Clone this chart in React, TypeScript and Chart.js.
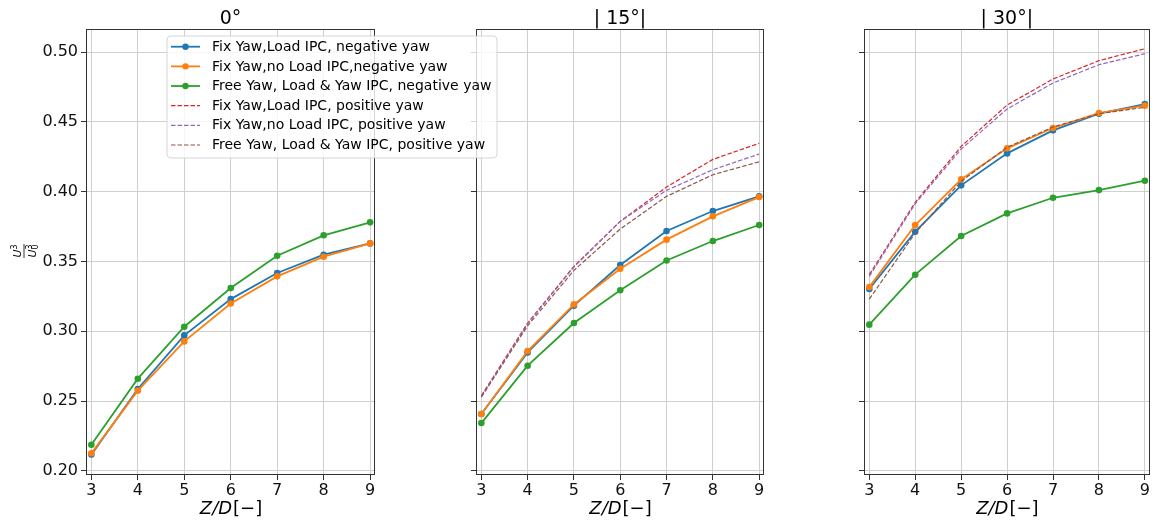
import React, { useEffect, useRef } from 'react';
import { Chart, registerables } from 'chart.js';

Chart.register(...registerables);

// ---------- data ----------
const zValues = [3, 4, 5, 6, 7, 8, 9];
const yTickValues = [0.2, 0.25, 0.3, 0.35, 0.4, 0.45, 0.5];
const panelTitles = ['0°', '| 15°|', '| 30°|'];

const seriesLabels = [
  'Fix Yaw,Load IPC, negative yaw',
  'Fix Yaw,no Load IPC,negative yaw',
  'Free Yaw, Load & Yaw IPC, negative yaw',
  'Fix Yaw,Load IPC, positive yaw',
  'Fix Yaw,no Load IPC, positive yaw',
  'Free Yaw, Load & Yaw IPC, positive yaw',
];
const seriesColors = ['#1f77b4', '#ff7f0e', '#2ca02c', '#d62728', '#9467bd', '#8c564b'];
const seriesDashed = [false, false, false, true, true, true];

// Panel 0°
const yaw0FixLoadNeg = [0.2116, 0.2586, 0.297, 0.323, 0.3417, 0.3548, 0.3629];
const yaw0FixNoLoadNeg = [0.2125, 0.2574, 0.2927, 0.3199, 0.3393, 0.3534, 0.3629];
const yaw0FreeNeg = [0.2187, 0.266, 0.3032, 0.3309, 0.3541, 0.3687, 0.378];

// Panel |15°|
const yaw15FixLoadNeg = [0.2407, 0.2848, 0.3183, 0.3474, 0.3718, 0.3861, 0.3966];
const yaw15FixNoLoadNeg = [0.2407, 0.2858, 0.3192, 0.3448, 0.3656, 0.3823, 0.3961];
const yaw15FreeNeg = [0.2342, 0.2753, 0.3059, 0.3293, 0.3507, 0.3646, 0.3761];
const yaw15FixLoadPos = [0.2538, 0.3059, 0.3465, 0.3787, 0.4033, 0.4231, 0.4346];
const yaw15FixNoLoadPos = [0.2533, 0.3054, 0.346, 0.3787, 0.4009, 0.4157, 0.4269];
const yaw15FreePos = [0.2528, 0.3039, 0.3436, 0.3732, 0.3966, 0.4121, 0.4214];

// Panel |30°|
const yaw30FixLoadNeg = [0.3302, 0.3713, 0.4045, 0.4274, 0.4439, 0.4558, 0.4627];
const yaw30FixNoLoadNeg = [0.3316, 0.3761, 0.4088, 0.431, 0.4456, 0.4563, 0.4616];
const yaw30FreeNeg = [0.3047, 0.3405, 0.3682, 0.3844, 0.3956, 0.4011, 0.4078];
const yaw30FixLoadPos = [0.3405, 0.3923, 0.4324, 0.462, 0.4807, 0.4938, 0.5024];
const yaw30FixNoLoadPos = [0.3393, 0.3913, 0.4305, 0.4592, 0.4778, 0.4909, 0.4988];
const yaw30FreePos = [0.323, 0.3703, 0.4074, 0.4317, 0.4463, 0.4558, 0.4604];

const panelSeries: (number[] | null)[][] = [
  [yaw0FixLoadNeg, yaw0FixNoLoadNeg, yaw0FreeNeg, null, null, null],
  [yaw15FixLoadNeg, yaw15FixNoLoadNeg, yaw15FreeNeg, yaw15FixLoadPos, yaw15FixNoLoadPos, yaw15FreePos],
  [yaw30FixLoadNeg, yaw30FixNoLoadNeg, yaw30FreeNeg, yaw30FixLoadPos, yaw30FixNoLoadPos, yaw30FreePos],
];

// ---------- layout ----------
const W = 1153;
const H = 522;
const panelLeft = [86, 476, 864];
const panelRight = [375, 764, 1152];
const areaTop = 29;
const areaBottom = 475;
const yAxisW = 60;
const xAxisH = 40;
const FONT = "'DejaVu Sans', sans-serif";

function makeDecor(k: number) {
  return {
    id: 'decor' + k,
    afterDatasetsDraw(chart: any) {
      const { ctx, chartArea: a } = chart;
      ctx.save();
      ctx.strokeStyle = '#333';
      ctx.lineWidth = 1;
      ctx.strokeRect(Math.round(a.left) + 0.5, Math.round(a.top) + 0.5, Math.round(a.right - a.left) - 1, Math.round(a.bottom - a.top) - 1);
      ctx.restore();
    },
    afterDraw(chart: any) {
      const { ctx, chartArea: a } = chart;
      const cx = (a.left + a.right) / 2;
      ctx.save();
      // title
      ctx.fillStyle = '#000';
      ctx.font = `19px ${FONT}`;
      ctx.textAlign = 'center';
      ctx.textBaseline = 'alphabetic';
      ctx.fillText(panelTitles[k], cx, 24);
      // x label: Z/D[−]
      const it = `italic 18px ${FONT}`;
      const up = `18px ${FONT}`;
      ctx.font = it;
      const w1 = ctx.measureText('Z/D').width;
      ctx.font = up;
      const w2 = ctx.measureText('[−]').width;
      const x0 = cx - (w1 + w2) / 2;
      ctx.textAlign = 'left';
      ctx.font = it;
      ctx.fillText('Z/D', x0, 514);
      ctx.font = up;
      ctx.fillText('[−]', x0 + w1 + 1, 514);

      if (k === 0) {
        // y label: U^3 / U_0^3 rotated
        ctx.save();
        ctx.translate(24.5, 251);
        ctx.rotate(-Math.PI / 2);
        ctx.fillStyle = '#000';
        const big = `italic 11px ${FONT}`;
        const small = `8px ${FONT}`;
        ctx.font = big;
        const uw = ctx.measureText('U').width;
        ctx.font = small;
        const sw = ctx.measureText('3').width;
        const nW = uw + sw;
        ctx.font = big;
        ctx.textAlign = 'left';
        ctx.fillText('U', -nW / 2, -4);
        ctx.font = small;
        ctx.fillText('3', -nW / 2 + uw, -8);
        const dW = uw + sw;
        ctx.font = big;
        ctx.fillText('U', -dW / 2, 11);
        ctx.font = small;
        ctx.fillText('3', -dW / 2 + uw, 7);
        ctx.fillText('0', -dW / 2 + uw, 13);
        ctx.strokeStyle = '#000';
        ctx.lineWidth = 0.8;
        ctx.beginPath();
        ctx.moveTo(-7, -0.5);
        ctx.lineTo(7, -0.5);
        ctx.stroke();
        ctx.restore();

        // legend
        const lx = 167, ly = 36, lw = 330, lh = 122;
        ctx.save();
        ctx.beginPath();
        const r = 4;
        ctx.moveTo(lx + r, ly);
        ctx.lineTo(lx + lw - r, ly);
        ctx.quadraticCurveTo(lx + lw, ly, lx + lw, ly + r);
        ctx.lineTo(lx + lw, ly + lh - r);
        ctx.quadraticCurveTo(lx + lw, ly + lh, lx + lw - r, ly + lh);
        ctx.lineTo(lx + r, ly + lh);
        ctx.quadraticCurveTo(lx, ly + lh, lx, ly + lh - r);
        ctx.lineTo(lx, ly + r);
        ctx.quadraticCurveTo(lx, ly, lx + r, ly);
        ctx.closePath();
        ctx.fillStyle = 'rgba(255,255,255,0.8)';
        ctx.fill();
        ctx.strokeStyle = 'rgba(204,204,204,0.8)';
        ctx.lineWidth = 1;
        ctx.stroke();
        ctx.restore();

        ctx.font = `14px ${FONT}`;
        ctx.textBaseline = 'middle';
        ctx.textAlign = 'left';
        for (let i = 0; i < seriesLabels.length; i++) {
          const yy = 46.7 + i * 19.66;
          ctx.save();
          ctx.strokeStyle = seriesColors[i];
          if (seriesDashed[i]) {
            ctx.lineWidth = 1.2;
            ctx.setLineDash([4.5, 2]);
          } else {
            ctx.lineWidth = 1.8;
          }
          ctx.beginPath();
          ctx.moveTo(171, yy);
          ctx.lineTo(200, yy);
          ctx.stroke();
          if (!seriesDashed[i]) {
            ctx.fillStyle = seriesColors[i];
            ctx.beginPath();
            ctx.arc(185.5, yy, 3.2, 0, Math.PI * 2);
            ctx.fill();
          }
          ctx.restore();
          ctx.fillStyle = '#000';
          ctx.fillText(seriesLabels[i], 212, yy + 0.5);
        }
      }
      ctx.restore();
    },
  };
}

function buildConfig(k: number): any {
  const datasets: any[] = [];
  panelSeries[k].forEach((vals, i) => {
    if (!vals) return;
    datasets.push({
      label: seriesLabels[i],
      data: zValues.map((z, j) => ({ x: z, y: vals[j] })),
      borderColor: seriesColors[i],
      backgroundColor: seriesColors[i],
      pointBackgroundColor: seriesColors[i],
      pointBorderWidth: 0,
      borderWidth: seriesDashed[i] ? 1.2 : 1.8,
      borderDash: seriesDashed[i] ? [4.5, 2] : [],
      pointRadius: seriesDashed[i] ? 0 : 3.3,
      pointHoverRadius: 0,
      tension: 0,
      fill: false,
      order: 10 - i,
    });
  });
  return {
    type: 'line',
    data: { datasets },
    plugins: [makeDecor(k)],
    options: {
      responsive: false,
      animation: false,
      events: [],
      layout: {
        padding: {
          left: panelLeft[k] - yAxisW,
          right: W - panelRight[k],
          top: areaTop,
          bottom: H - areaBottom - xAxisH,
        },
      },
      plugins: { legend: { display: false }, tooltip: { enabled: false }, title: { display: false } },
      scales: {
        x: {
          type: 'linear',
          min: 2.885,
          max: 9.105,
          afterBuildTicks: (s: any) => {
            s.ticks = zValues.map((v) => ({ value: v }));
          },
          afterFit: (s: any) => {
            s.height = xAxisH;
            s.paddingLeft = 0;
            s.paddingRight = 0;
          },
          border: { display: false },
          grid: { color: '#cfcfcf', lineWidth: 1, tickColor: '#333', tickLength: 5, drawTicks: true },
          ticks: {
            color: '#111',
            font: { family: FONT, size: 16 },
            padding: 1,
            maxRotation: 0,
            autoSkip: false,
            callback: (v: any) => String(v),
          },
        },
        y: {
          type: 'linear',
          min: 0.197,
          max: 0.5165,
          afterBuildTicks: (s: any) => {
            s.ticks = yTickValues.map((v) => ({ value: v }));
          },
          afterFit: (s: any) => {
            s.width = yAxisW;
            s.paddingTop = 0;
            s.paddingBottom = 0;
          },
          border: { display: false },
          grid: { color: '#cfcfcf', lineWidth: 1, tickColor: '#333', tickLength: 5, drawTicks: true },
          ticks: {
            display: k === 0,
            color: '#111',
            font: { family: FONT, size: 16 },
            padding: 3,
            autoSkip: false,
            callback: (v: any) => Number(v).toFixed(2),
          },
        },
      },
    },
  };
}

function App() {
  const r0 = useRef<HTMLCanvasElement>(null);
  const r1 = useRef<HTMLCanvasElement>(null);
  const r2 = useRef<HTMLCanvasElement>(null);

  useEffect(() => {
    document.body.style.margin = '0';
    const refs = [r0, r1, r2];
    const charts = refs.map((r, k) => new Chart(r.current as HTMLCanvasElement, buildConfig(k)));
    return () => charts.forEach((c) => c.destroy());
  }, []);

  const cs: React.CSSProperties = { position: 'absolute', left: 0, top: 0, width: W, height: H };
  return (
    <div style={{ position: 'fixed', left: 0, top: 0, width: W, height: H, background: '#fff' }}>
      <canvas ref={r2} width={W} height={H} style={{ ...cs, zIndex: 1 }} />
      <canvas ref={r1} width={W} height={H} style={{ ...cs, zIndex: 2 }} />
      <canvas ref={r0} width={W} height={H} style={{ ...cs, zIndex: 3 }} />
    </div>
  );
}

export default App;
